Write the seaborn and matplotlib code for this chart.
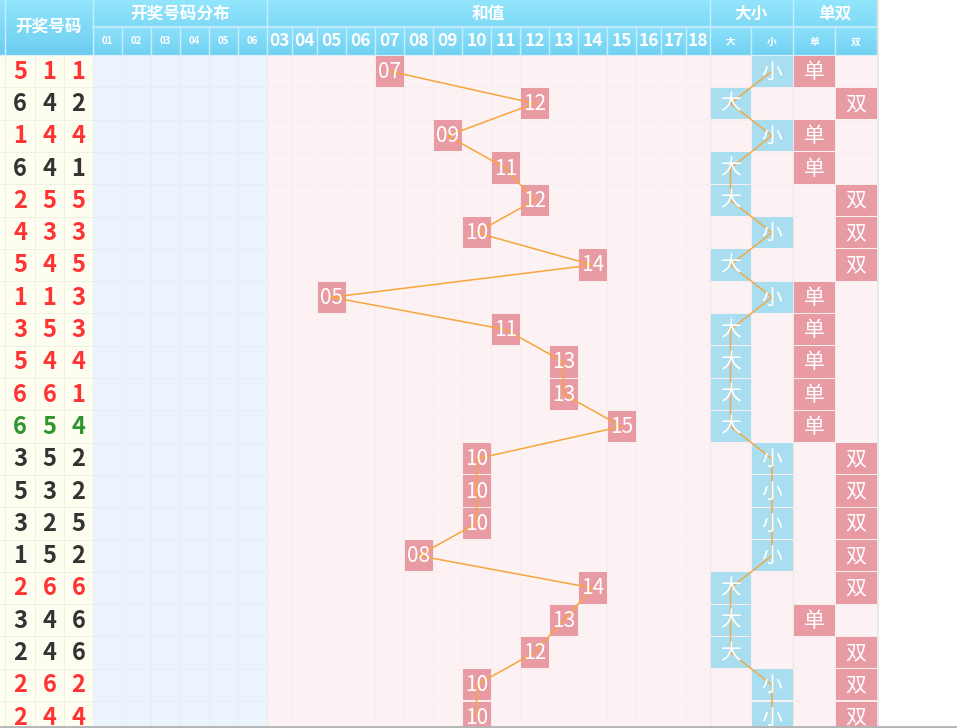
import numpy as np
import pandas as pd
import matplotlib
matplotlib.use("Agg")
import matplotlib.pyplot as plt
import seaborn as sns
from matplotlib.patches import Rectangle
from matplotlib.colors import LinearSegmentedColormap

# ---------------- data ----------------
draws = ["511", "642", "144", "641", "255", "433", "545", "113", "353", "544",
         "661", "654", "352", "532", "325", "152", "266", "346", "246", "262", "244"]
draw_type = ["pair", "plain", "pair", "plain", "pair", "pair", "pair", "pair", "pair", "pair",
             "pair", "straight", "plain", "plain", "plain", "plain", "pair", "plain", "plain", "pair", "pair"]
sums = [7, 12, 9, 11, 12, 10, 14, 5, 11, 13, 13, 15, 10, 10, 10, 8, 14, 13, 12, 10, 10]
size_labels = ["小", "大", "小", "大", "大", "小", "大", "小", "大", "大",
               "大", "大", "小", "小", "小", "小", "大", "大", "大", "小", "小"]
parity_labels = ["单", "双", "单", "单", "双", "双", "双", "单", "单", "单",
                 "单", "单", "双", "双", "双", "双", "双", "单", "双", "双", "双"]
dist_ticks = ["01", "02", "03", "04", "05", "06"]
sum_ticks = ["03", "04", "05", "06", "07", "08", "09", "10", "11", "12",
             "13", "14", "15", "16", "17", "18"]
size_ticks = ["大", "小"]
parity_ticks = ["单", "双"]

# ---------------- layout ----------------
W, H = 957, 728
HDR1, HDR2 = 27, 55
ROW_H = 32.3
TABLE_R = 877
digit_edges = [5, 35, 64, 93]
dist_edges = [93, 122, 151, 180, 209, 238, 267]
sum_edges = [267, 292, 317, 346, 375, 404, 433, 462, 491, 520, 549, 578, 607, 636, 661, 686, 710]
size_edges = [710, 751, 793]
par_edges = [793, 835, 877]

C_PINK_BG = "#fcf2f3"
C_BLUE_BG = "#ebf4fd"
C_CREAM = "#fdfdf0"
C_BOX_PINK = "#e99ba3"
C_BOX_BLUE = "#a8def0"
C_LINE = "#f7a53c"
C_GRID_PINK = "#f8ecee"
C_GRID_BLUE = "#e4eef9"
C_HDR_LINE = "#c9eefb"
digit_color = {"pair": "#ff3333", "plain": "#333333", "straight": "#2e962e"}

sns.set_theme(style="white")
plt.rcParams["font.family"] = ["Noto Sans CJK SC", "DejaVu Sans"]

fig = plt.figure(figsize=(W / 100, H / 100), dpi=100)
ax = fig.add_axes([0, 0, 1, 1])

n = len(draws)
row_top = [HDR2 + i * ROW_H for i in range(n)]
row_c = [t + ROW_H / 2 for t in row_top]

def centers(edges):
    return [(edges[i] + edges[i + 1]) / 2 for i in range(len(edges) - 1)]

# backgrounds
ax.add_patch(Rectangle((0, HDR2), 93, H - HDR2, color=C_CREAM, lw=0, zorder=0))
ax.add_patch(Rectangle((93, HDR2), 267 - 93, H - HDR2, color=C_BLUE_BG, lw=0, zorder=0))
ax.add_patch(Rectangle((267, HDR2), TABLE_R - 267, H - HDR2, color=C_PINK_BG, lw=0, zorder=0))

# grid lines
for e in dist_edges[1:-1]:
    ax.plot([e, e], [HDR2, H], color=C_GRID_BLUE, lw=0.7, zorder=1)
for e in sum_edges[1:-1] + [size_edges[1], par_edges[1]]:
    ax.plot([e, e], [HDR2, H], color=C_GRID_PINK, lw=0.7, zorder=1)
for e in [710, 793]:
    ax.plot([e, e], [HDR2, H], color="#f3e5e7", lw=0.8, zorder=1)
for e in digit_edges[:-1]:
    ax.plot([e, e], [HDR2, H], color="#f1f1e3", lw=0.7, zorder=1)
ax.plot([93, 93], [HDR2, H], color="#e9f0f6", lw=0.8, zorder=1)
ax.plot([267, 267], [HDR2, H], color="#efe8ef", lw=0.8, zorder=1)
for t in row_top[1:]:
    ax.plot([0, 93], [t, t], color="#f1f1e3", lw=0.7, zorder=1)
    ax.plot([93, 267], [t, t], color=C_GRID_BLUE, lw=0.7, zorder=1)
    ax.plot([267, TABLE_R], [t, t], color=C_GRID_PINK, lw=0.7, zorder=1)

# header gradients
cmap_top = LinearSegmentedColormap.from_list("t", ["#92e5fc", "#80daf6"])
cmap_bot = LinearSegmentedColormap.from_list("b", ["#8ce0fa", "#72d2f2"])
cmap_full = LinearSegmentedColormap.from_list("f", ["#92e5fc", "#6ccdf0"])
grad = np.linspace(0, 1, 64).reshape(-1, 1)
ax.imshow(grad, cmap=cmap_top, extent=(93, TABLE_R, HDR1, 0), aspect="auto", origin="upper", zorder=1)
ax.imshow(grad, cmap=cmap_bot, extent=(93, TABLE_R, HDR2, HDR1), aspect="auto", origin="upper", zorder=1)
ax.imshow(grad, cmap=cmap_full, extent=(0, 93, HDR2, 0), aspect="auto", origin="upper", zorder=1)

# header lines
ax.plot([93, TABLE_R], [HDR1, HDR1], color=C_HDR_LINE, lw=1.2, zorder=2)
for e in [5, 93, 267, 710, 793, TABLE_R]:
    ax.plot([e, e], [0, HDR2], color=C_HDR_LINE, lw=1.0, zorder=2)
for e in dist_edges[1:-1] + sum_edges[1:-1] + [751, 835]:
    ax.plot([e, e], [HDR1, HDR2], color=C_HDR_LINE, lw=1.0, zorder=2)
ax.plot([0, TABLE_R], [HDR2, HDR2], color="#d8f1fa", lw=0.8, zorder=2)

# header texts
hkw = dict(color="white", fontweight="bold", ha="center", va="center", zorder=5)
ax.text(49, 27, "开奖号码", fontsize=12, **hkw)
ax.text(180, 13.5, "开奖号码分布", fontsize=12, **hkw)
ax.text(488.5, 13.5, "和值", fontsize=12, **hkw)
ax.text(751.5, 13.5, "大小", fontsize=12, **hkw)
ax.text(835, 13.5, "单双", fontsize=12, **hkw)
for lab, x in zip(dist_ticks, centers(dist_edges)):
    ax.text(x, 41.5, lab, fontsize=7, **hkw)
for lab, x in zip(sum_ticks, centers(sum_edges)):
    ax.text(x, 41.5, lab, fontsize=12.5, **hkw)
for lab, x in zip(size_ticks + parity_ticks, centers(size_edges) + centers(par_edges)):
    ax.text(x, 41.5, lab, fontsize=7, **hkw)

# draw digits
dcx = centers(digit_edges)
for i, (d, tp) in enumerate(zip(draws, draw_type)):
    for j, ch in enumerate(d):
        ax.text(dcx[j], row_c[i] + 0.5, ch, fontsize=17, fontweight="bold",
                color=digit_color[tp], ha="center", va="center", zorder=5)

box_kw = dict(fontsize=15, color="white", ha="center", va="center", zorder=5,
              fontweight="light")

# sum boxes
sum_pos = {int(lab): i for i, lab in enumerate(sum_ticks)}
sum_x = []
for i, s in enumerate(sums):
    k = sum_pos[s]
    x0, x1 = sum_edges[k], sum_edges[k + 1]
    ax.add_patch(Rectangle((x0 + 0.5, row_top[i] + 0.5), x1 - x0 - 1, ROW_H - 1,
                           color=C_BOX_PINK, lw=0, zorder=2))
    sum_x.append((x0 + x1) / 2)
    ax.text((x0 + x1) / 2, row_c[i] + 0.5, f"{s:02d}", **box_kw)

sum_df = pd.DataFrame({"x": sum_x, "y": row_c})
sns.lineplot(data=sum_df, x="x", y="y", sort=False, estimator=None, ax=ax,
             color=C_LINE, lw=1.1, zorder=4)

# size boxes
size_cx = centers(size_edges)
size_x = []
for i, lab in enumerate(size_labels):
    k = size_ticks.index(lab)
    x0 = size_edges[k]
    w = size_edges[k + 1] - x0
    ax.add_patch(Rectangle((x0 + 0.5, row_top[i] + 0.5), w - 1, ROW_H - 1,
                           color=C_BOX_BLUE, lw=0, zorder=2))
    size_x.append(size_cx[k])
    ax.text(size_cx[k], row_c[i] + 0.5, lab, **box_kw)
size_df = pd.DataFrame({"x": size_x, "y": row_c})
sns.lineplot(data=size_df, x="x", y="y", sort=False, estimator=None, ax=ax,
             color=C_LINE, lw=1.0, zorder=4)

# parity boxes
par_cx = centers(par_edges)
for i, lab in enumerate(parity_labels):
    k = parity_ticks.index(lab)
    x0 = par_edges[k]
    w = par_edges[k + 1] - x0
    ax.add_patch(Rectangle((x0 + 0.5, row_top[i] + 0.5), w - 1, ROW_H - 1,
                           color=C_BOX_PINK, lw=0, zorder=2))
    ax.text(par_cx[k], row_c[i] + 0.5, lab, **box_kw)

# outer borders
ax.plot([TABLE_R + 1, TABLE_R + 1], [0, H], color="#e4e4e4", lw=1.2, zorder=6)
ax.plot([0, W], [H - 1.5, H - 1.5], color="#b4b4b4", lw=2, zorder=6)

ax.set_xlim(0, W)
ax.set_ylim(H, 0)
ax.set_axis_off()
fig.savefig("out.png", dpi=100)
